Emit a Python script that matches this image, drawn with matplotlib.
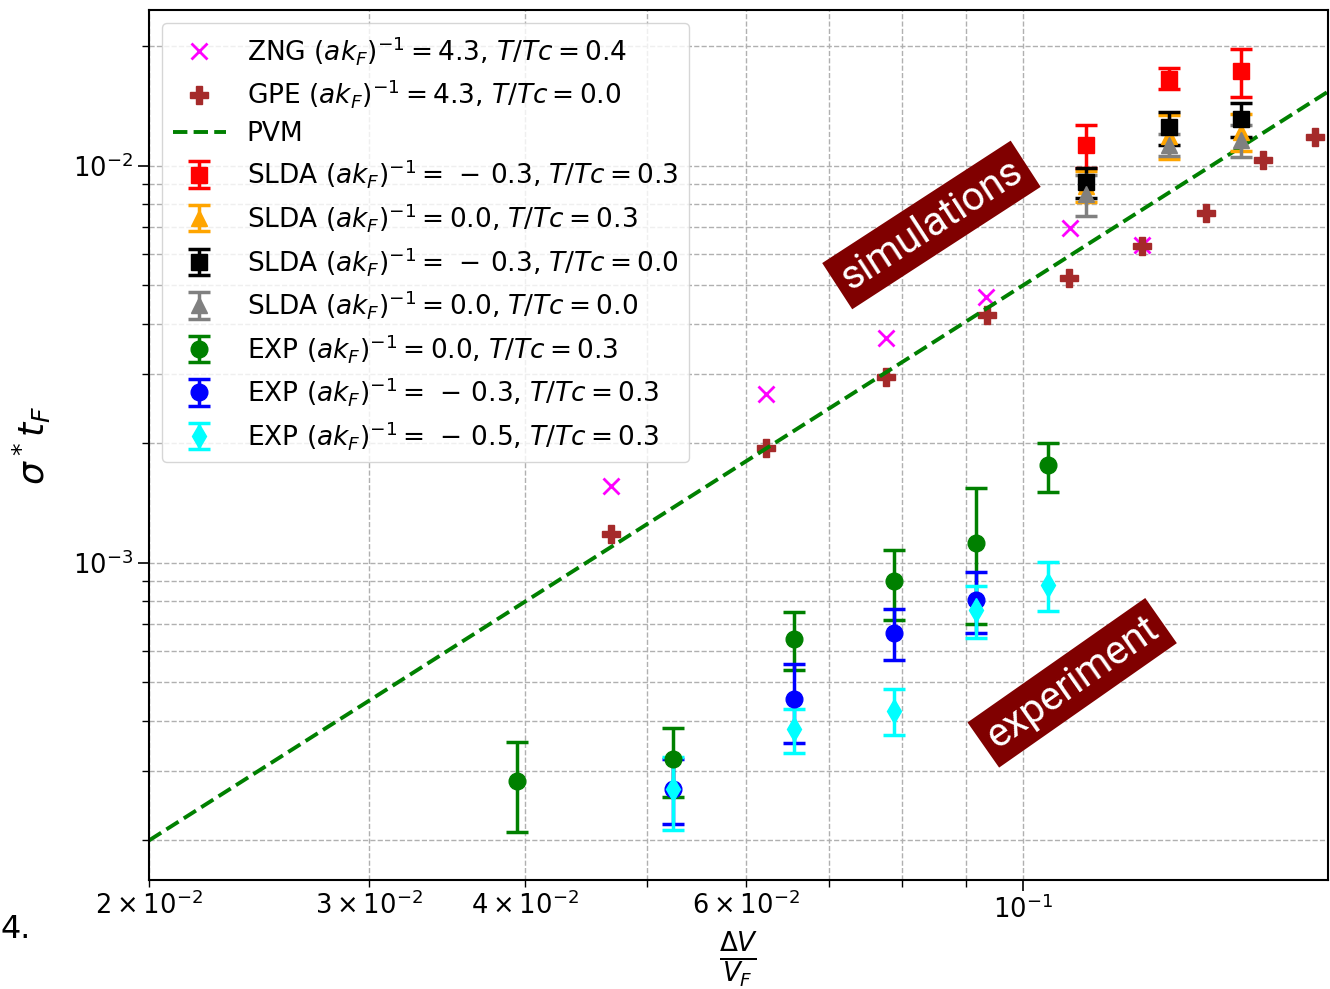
import matplotlib
matplotlib.use("Agg")
import matplotlib.pyplot as plt

# ---------------- data ----------------
zng_x = [0.0468, 0.0623, 0.0777, 0.0935, 0.1091, 0.1246]
zng_y = [1.56e-3, 2.67e-3, 3.69e-3, 4.68e-3, 6.98e-3, 6.32e-3]

gpe_x = [0.0468, 0.0623, 0.0777, 0.0936, 0.1089, 0.1246, 0.1402, 0.1557, 0.1714]
gpe_y = [1.18e-3, 1.95e-3, 2.94e-3, 4.21e-3, 5.22e-3, 6.29e-3, 7.61e-3, 1.035e-2, 1.183e-2]

pvm_x = [0.02, 0.18]
pvm_y = [2.0e-4, 1.62e-2]

slda_x = [0.1124, 0.1309, 0.1495]
slda_m03_t03_y = [1.13e-2, 1.66e-2, 1.73e-2]
slda_m03_t03_e = [1.4e-3, 1.0e-3, 2.4e-3]
slda_00_t03_y = [8.9e-3, 1.19e-2, 1.22e-2]
slda_00_t03_e = [8.0e-4, 1.5e-3, 1.3e-3]
slda_m03_t00_y = [9.1e-3, 1.25e-2, 1.31e-2]
slda_m03_t00_e = [8.0e-4, 1.2e-3, 1.3e-3]
slda_00_t00_y = [8.5e-3, 1.13e-2, 1.16e-2]
slda_00_t00_e = [1.0e-3, 7.0e-4, 1.1e-3]

exp00_x = [0.0394, 0.0525, 0.0656, 0.0788, 0.0917, 0.1048]
exp00_y = [2.82e-4, 3.21e-4, 6.45e-4, 9.0e-4, 1.12e-3, 1.76e-3]
exp00_e = [7.2e-5, 6.3e-5, 1.07e-4, 1.8e-4, 4.2e-4, 2.5e-4]

expm03_x = [0.0525, 0.0656, 0.0788, 0.0917]
expm03_y = [2.70e-4, 4.54e-4, 6.66e-4, 8.07e-4]
expm03_e = [5.0e-5, 1.02e-4, 9.8e-5, 1.4e-4]

expm05_x = [0.0525, 0.0656, 0.0788, 0.0917, 0.1048]
expm05_y = [2.69e-4, 3.81e-4, 4.24e-4, 7.62e-4, 8.8e-4]
expm05_e = [5.6e-5, 4.8e-5, 5.6e-5, 1.15e-4, 1.24e-4]

labels = [
    r"ZNG $(ak_F)^{-1} = 4.3$, $T/Tc = 0.4$",
    r"GPE $(ak_F)^{-1} = 4.3$, $T/Tc = 0.0$",
    "PVM",
    r"SLDA $(ak_F)^{-1} = \,-\,0.3$, $T/Tc = 0.3$",
    r"SLDA $(ak_F)^{-1} = 0.0$, $T/Tc = 0.3$",
    r"SLDA $(ak_F)^{-1} = \,-\,0.3$, $T/Tc = 0.0$",
    r"SLDA $(ak_F)^{-1} = 0.0$, $T/Tc = 0.0$",
    r"EXP $(ak_F)^{-1} = 0.0$, $T/Tc = 0.3$",
    r"EXP $(ak_F)^{-1} = \,-\,0.3$, $T/Tc = 0.3$",
    r"EXP $(ak_F)^{-1} = \,-\,0.5$, $T/Tc = 0.3$",
]

# ---------------- figure ----------------
plt.rcParams['font.family'] = ['DejaVu Sans']
plt.rcParams['font.size'] = 18
fig = plt.figure(figsize=(13.3, 9.89), dpi=100)
ax = fig.add_axes([149/1330, 1 - 880/989, (1328-149)/1330, (880-10)/989])

ms = 12
eb = dict(elinewidth=2.5, capsize=8, capthick=2.5, markersize=ms, linestyle='none')

h = []
h.append(ax.plot(zng_x, zng_y, 'x', color='magenta', markersize=ms, mew=2, label=labels[0])[0])
h.append(ax.plot(gpe_x, gpe_y, 'P', color='brown', markersize=13, label=labels[1])[0])
h.append(ax.plot(pvm_x, pvm_y, '--', color='green', lw=2.8, label=labels[2])[0])
h.append(ax.errorbar(slda_x, slda_m03_t03_y, yerr=slda_m03_t03_e, fmt='s', color='red', label=labels[3], **eb))
h.append(ax.errorbar(slda_x, slda_00_t03_y, yerr=slda_00_t03_e, fmt='^', color='orange', label=labels[4], **eb))
h.append(ax.errorbar(slda_x, slda_m03_t00_y, yerr=slda_m03_t00_e, fmt='s', color='black', label=labels[5], **eb))
h.append(ax.errorbar(slda_x, slda_00_t00_y, yerr=slda_00_t00_e, fmt='^', color='gray', label=labels[6], **eb))
h.append(ax.errorbar(exp00_x, exp00_y, yerr=exp00_e, fmt='o', color='green', label=labels[7], **eb))
h.append(ax.errorbar(expm03_x, expm03_y, yerr=expm03_e, fmt='o', color='blue', label=labels[8], **eb))
h.append(ax.errorbar(expm05_x, expm05_y, yerr=expm05_e, fmt='d', color='cyan', label=labels[9], **eb))

ax.set_xscale('log')
ax.set_yscale('log')
ax.set_xlim(0.02, 0.1754)
ax.set_ylim(1.59e-4, 2.47e-2)

ax.grid(True, which='both', linestyle='--', color='#b0b0b0', linewidth=1)
ax.set_axisbelow(True)
ax.tick_params(which='major', length=8, width=1.2, labelsize=18.5)
ax.tick_params(which='minor', length=5, width=1, labelsize=18.5)
for s in ax.spines.values():
    s.set_linewidth(1.5)

ax.set_ylabel(r"$\sigma^* t_F$", fontsize=26, labelpad=14)
ax.set_xlabel(r"$\frac{\Delta V}{V_F}$", fontsize=27, labelpad=4)

ax.legend(handles=h, loc='upper left', fontsize=19.0, framealpha=0.8,
          handlelength=2.0, labelspacing=0.40)

box = dict(boxstyle='square,pad=0.2', facecolor='#800000', edgecolor='none')
ax.text(0.0845, 7.1e-3, "simulations", color='white', fontsize=29, rotation=33,
        ha='center', va='center', rotation_mode='anchor', bbox=box, family='Roboto')
ax.text(0.1095, 4.99e-4, "experiment", color='white', fontsize=29, rotation=35,
        ha='center', va='center', rotation_mode='anchor', bbox=box, family='Roboto')

fig.text(0.0, 0.06, "4.", fontsize=23, ha='left', va='center')

fig.savefig("out.png", dpi=100)
